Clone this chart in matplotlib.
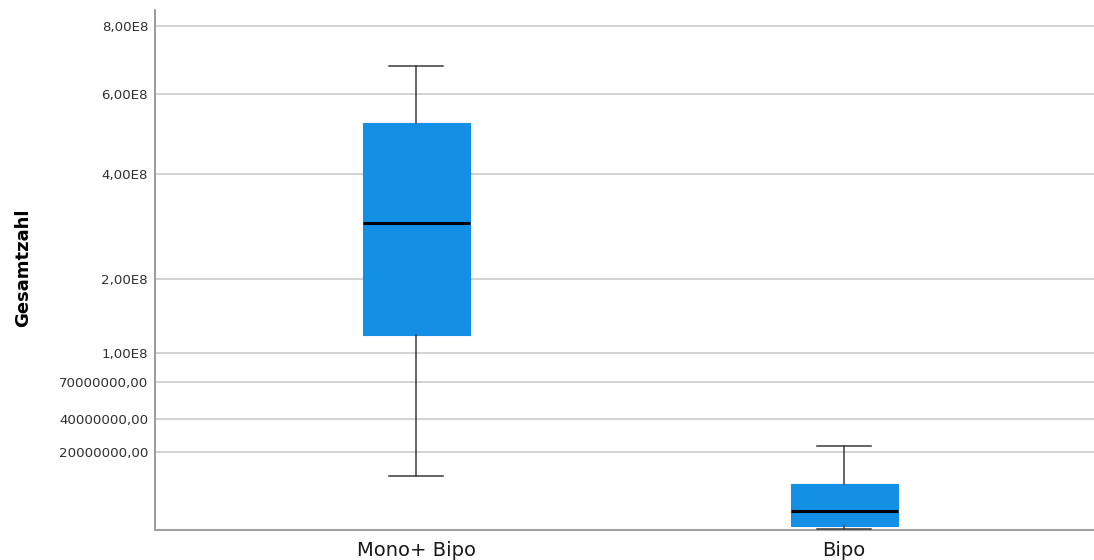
import matplotlib.pyplot as plt
import numpy as np

# five-number summaries per group (SPSS style boxplot)
groups = ['Mono+ Bipo', 'Bipo']
whisker_low = [1.0e7, 2.6e4]
q1 = [1.217e8, 1.3e5]
median = [2.987e8, 1.45e6]
q3 = [5.234e8, 7.18e6]
whisker_high = [6.775e8, 2.342e7]

yticks = [2e7, 4e7, 7e7, 1e8, 2e8, 4e8, 6e8, 8e8]
ytick_labels = ['20000000,00', '40000000,00', '70000000,00', '1,00E8',
                '2,00E8', '4,00E8', '6,00E8', '8,00E8']

stats = []
for i, g in enumerate(groups):
    stats.append({'label': g, 'whislo': whisker_low[i], 'q1': q1[i],
                  'med': median[i], 'q3': q3[i], 'whishi': whisker_high[i],
                  'fliers': []})

fig = plt.figure(figsize=(10.94, 5.6), dpi=100)
ax = fig.add_axes([155 / 1094, 30 / 560, 939 / 1094, 520 / 560])

ax.set_yscale('function', functions=(lambda v: np.sqrt(np.clip(v, 0, None)),
                                     lambda v: np.square(v)))

ax.bxp(stats, positions=[0, 1], widths=0.25, capwidths=0.125,
       patch_artist=True, showfliers=False,
       boxprops=dict(facecolor='#148fe6', edgecolor='#148fe6', linewidth=0.8),
       medianprops=dict(color='black', linewidth=2.2),
       whiskerprops=dict(color='#3a3a3a', linewidth=1.1),
       capprops=dict(color='#3a3a3a', linewidth=1.1),
       zorder=3)

ax.set_ylim(1.5e4, 8.51e8)
ax.set_xlim(-0.61, 1.584)

ax.set_yticks(yticks)
ax.set_yticklabels(ytick_labels)
ax.minorticks_off()
ax.yaxis.grid(True, color='#d2d2d2', linewidth=1.4)
ax.set_axisbelow(True)

ax.set_xticks([0, 1])
ax.set_xticklabels(groups)
ax.tick_params(axis='y', length=0, pad=5, labelsize=9.6, labelcolor='#303030')
ax.tick_params(axis='x', length=0, pad=8, labelsize=14, labelcolor='#1a1a1a')

ax.set_ylabel('Gesamtzahl', fontsize=13, fontweight='bold')
ax.yaxis.set_label_coords(-123 / 939, 0.505)

for side in ['top', 'right']:
    ax.spines[side].set_visible(False)
ax.spines['left'].set_color('#8a8a8a')
ax.spines['bottom'].set_color('#a0a0a0')
ax.spines['left'].set_linewidth(1.2)
ax.spines['bottom'].set_linewidth(1.5)

fig.savefig('out.png', dpi=100)
